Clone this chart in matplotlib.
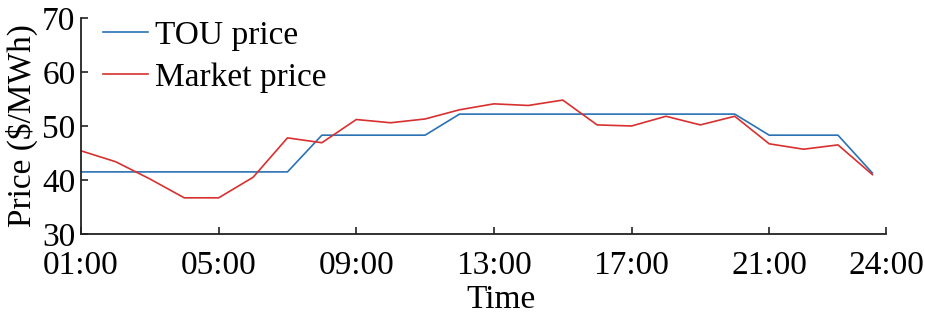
import matplotlib
matplotlib.use("Agg")
import matplotlib.pyplot as plt

hours = list(range(1, 25))
tou_price = [41.5, 41.5, 41.5, 41.5, 41.5, 41.5, 41.5, 48.3, 48.3, 48.3, 48.3, 52.2,
             52.2, 52.2, 52.2, 52.2, 52.2, 52.2, 52.2, 52.2, 48.3, 48.3, 48.3, 41.3]
market_price = [45.4, 43.4, 40.2, 36.7, 36.7, 40.5, 47.8, 46.9, 51.2, 50.6, 51.3, 53.0,
                54.1, 53.8, 54.8, 50.2, 50.0, 51.8, 50.2, 51.8, 46.7, 45.7, 46.5, 41.0]
tick_pos = [1, 5, 9, 13, 17, 21, 24.4]
tick_labels = ["01:00", "05:00", "09:00", "13:00", "17:00", "21:00", "24:00"]

plt.rcParams['font.family'] = ['Liberation Serif', 'DejaVu Serif']
plt.rcParams['font.size'] = 24

fig = plt.figure(figsize=(9.25, 3.21), dpi=100)
ax = fig.add_axes([0.0876, 0.271, 0.8704, 0.673])

ax.plot(hours, tou_price, color='#2b72b5', lw=1.2, label='TOU price')
ax.plot(hours, market_price, color='#d8302f', lw=1.2, label='Market price')

ax.set_xlim(1, 24.4)
ax.set_ylim(30, 70)
ax.set_xticks(tick_pos)
ax.set_xticklabels(tick_labels)
ax.set_yticks([30, 40, 50, 60, 70])
ax.tick_params(direction='in', length=5, width=1.2, color='#222222')
ax.tick_params(axis='x', pad=12)
ax.tick_params(axis='y', pad=4)
for s in ['top', 'right']:
    ax.spines[s].set_visible(False)
for s in ['left', 'bottom']:
    ax.spines[s].set_linewidth(1.3)
    ax.spines[s].set_color('#222222')

ax.set_xlabel('Time')
ax.xaxis.set_label_coords(0.522, -0.235)
ax.set_ylabel('Price ($/MWh)')
ax.yaxis.set_label_coords(-0.054, 0.5)

ax.legend(loc='upper left', frameon=False, handlelength=1.35, handletextpad=0.2,
          borderaxespad=0.0, labelspacing=0.34, bbox_to_anchor=(0.011, 1.05))

fig.savefig('out.png', dpi=100)
